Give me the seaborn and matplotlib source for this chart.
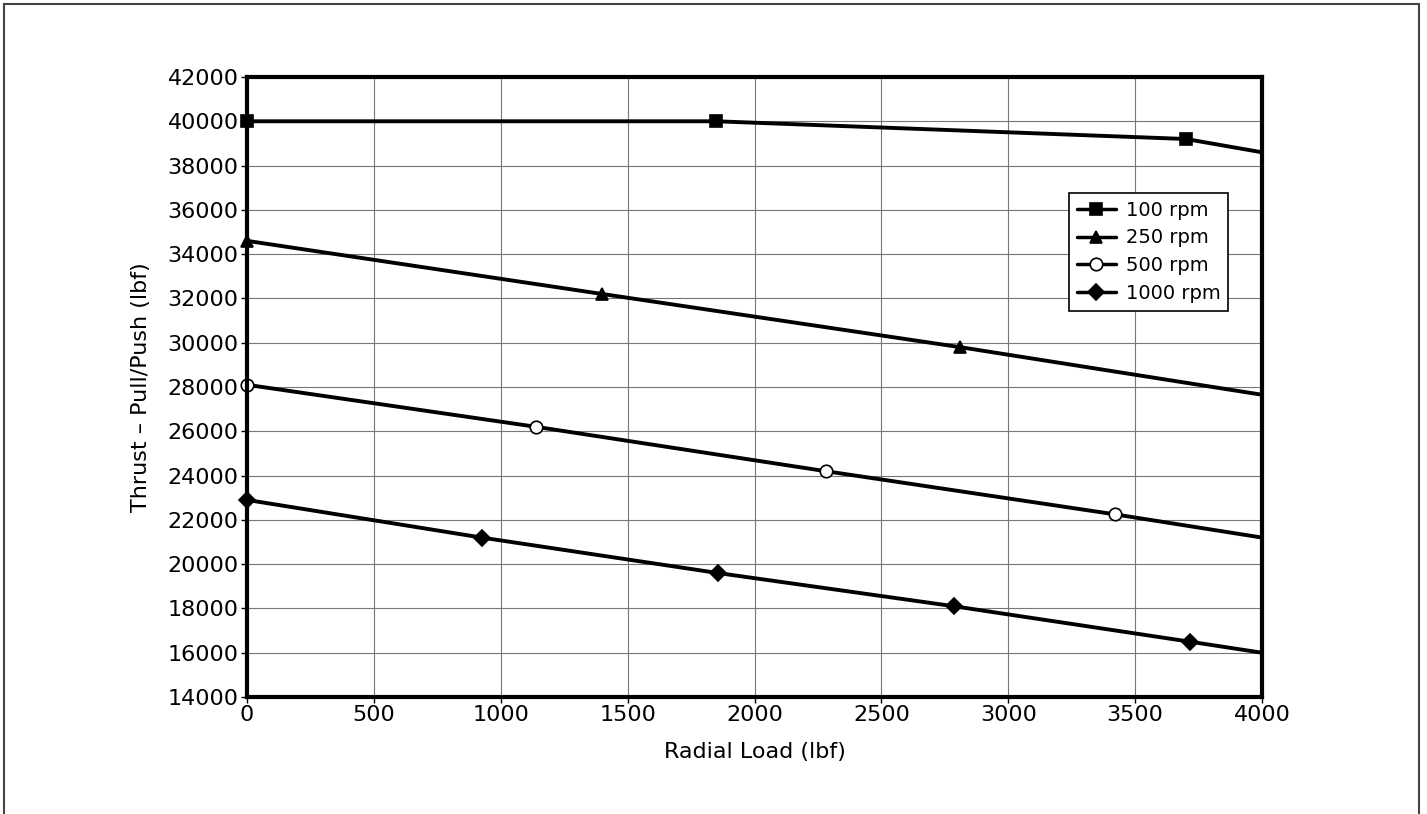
import numpy as np
import pandas as pd
from matplotlib import pyplot as plt
from matplotlib.patches import Rectangle
import seaborn as sns

# x values include the right-edge end of each line (no marker there)
load_100 = [0, 1850, 3700, 4000]
thrust_100 = [40000, 40000, 39200, 38600]
load_250 = [0, 1400, 2810, 4000]
thrust_250 = [34600, 32200, 29800, 27650]
load_500 = [0, 1140, 2280, 3420, 4000]
thrust_500 = [28100, 26200, 24200, 22250, 21200]
load_1000 = [0, 925, 1855, 2785, 3715, 4000]
thrust_1000 = [22900, 21200, 19600, 18100, 16500, 16000]

series_labels = ["100 rpm", "250 rpm", "500 rpm", "1000 rpm"]
x_ticks = list(range(0, 4001, 500))
y_ticks = list(range(14000, 42001, 2000))

sns.set_theme(style="white")
plt.rcParams['font.family'] = ['DejaVu Sans']
plt.rcParams['text.color'] = 'black'

fig = plt.figure(figsize=(14.27, 8.14), dpi=100)
ax = fig.add_axes([247 / 1427, 1 - 697 / 814, 1015 / 1427, 620 / 814])

# outer frame, open at the bottom
fig.patches.append(Rectangle((4 / 1427, -0.05), 1415 / 1427, 1.05 - 4 / 814,
                             transform=fig.transFigure, fill=False,
                             edgecolor='#444444', linewidth=1.5))

styles = [
    dict(marker='s', markersize=8, markerfacecolor='black'),
    dict(marker='^', markersize=9, markerfacecolor='black'),
    dict(marker='o', markersize=9, markerfacecolor='white'),
    dict(marker='D', markersize=8, markerfacecolor='black'),
]
all_x = [load_100, load_250, load_500, load_1000]
all_y = [thrust_100, thrust_250, thrust_500, thrust_1000]

for xs, ys, lab, st in zip(all_x, all_y, series_labels, styles):
    df = pd.DataFrame({"load": xs, "thrust": ys})
    sns.lineplot(data=df, x="load", y="thrust", ax=ax, color='black', linewidth=2.8,
                 label=lab, markeredgecolor='black', markeredgewidth=1.2,
                 markevery=list(range(len(xs) - 1)), clip_on=False, zorder=3, **st)

ax.set_xlim(0, 4000)
ax.set_ylim(14000, 42000)
ax.set_xticks(x_ticks)
ax.set_yticks(y_ticks)
ax.grid(True, color='#777777', linewidth=0.8)
ax.set_axisbelow(True)
for sp in ax.spines.values():
    sp.set_color('black')
    sp.set_linewidth(3)
    sp.set_zorder(4)
ax.tick_params(axis='both', direction='out', length=4, width=1, color='black',
               labelsize=16, labelcolor='black', pad=2, bottom=True, left=True)
ax.set_xlabel("Radial Load (lbf)", fontsize=16, color='black', labelpad=12)
ax.set_ylabel("Thrust – Pull/Push (lbf)", fontsize=16, color='black', labelpad=12)

leg = ax.legend(loc='upper left', bbox_to_anchor=(0.81, 0.813), fontsize=14,
                frameon=True, fancybox=False, framealpha=1, edgecolor='black',
                handlelength=2.0, handletextpad=0.5, borderpad=0.4,
                labelspacing=0.45, borderaxespad=0)
leg.get_frame().set_linewidth(1.2)
for h in leg.legend_handles:
    h.set_linewidth(2.5)
for t in leg.get_texts():
    t.set_color('black')

fig.savefig("out.png", dpi=100)
